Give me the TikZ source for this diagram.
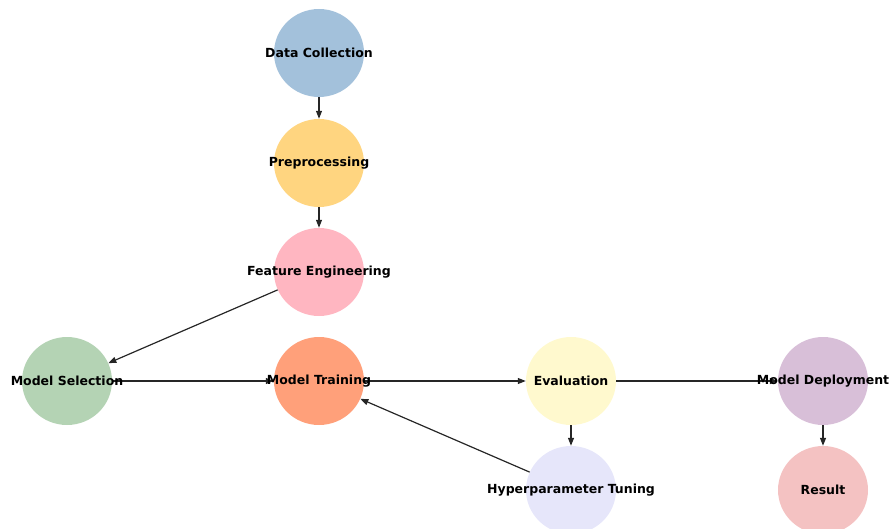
\documentclass[tikz,border=0pt]{standalone}
\usepackage{fontspec}
\setmainfont{DejaVu Sans}
\usetikzlibrary{shapes.geometric,arrows.meta}
\definecolor{cDC}{HTML}{A3C1DB}
\definecolor{cPP}{HTML}{FFD580}
\definecolor{cFE}{HTML}{FFB6C1}
\definecolor{cMS}{HTML}{B4D3B4}
\definecolor{cMT}{HTML}{FFA07A}
\definecolor{cEV}{HTML}{FFF9CE}
\definecolor{cMD}{HTML}{D8BFD8}
\definecolor{cHT}{HTML}{E6E6FA}
\definecolor{cRS}{HTML}{F4C2C2}
\tikzset{
  circ/.style={ellipse, minimum width=90pt, minimum height=88pt, inner sep=0pt, draw=none},
  lbl/.style={font=\bfseries\fontsize{12.5}{14}\selectfont, text=black, inner sep=0pt},
  conn/.style={-{Triangle[length=8pt,width=6pt]}, line width=1.2pt, draw=black!85},
}
\begin{document}
\begin{tikzpicture}[x=1pt,y=-1pt]
\useasboundingbox (0,0) rectangle (891,529);
\clip (0,0) rectangle (891,529);
\node[circ, fill=cDC] (dc) at (319,53) {};
\node[circ, fill=cPP] (pp) at (319,163) {};
\node[circ, fill=cFE] (fe) at (319,272) {};
\node[circ, fill=cMS] (ms) at (67,381) {};
\node[circ, fill=cMT] (mt) at (319,381) {};
\node[circ, fill=cEV] (ev) at (571,381) {};
\node[circ, fill=cMD] (md) at (823,381) {};
\node[circ, fill=cHT] (ht) at (571,490) {};
\node[circ, fill=cRS] (rs) at (823,490) {};
\draw[conn] (dc) -- (pp);
\draw[conn] (pp) -- (fe);
\draw[conn] (fe) -- (ms);
\draw[conn] (ms) -- (mt);
\draw[conn] (mt) -- (ev);
\draw[conn] (ev) -- (md);
\draw[conn] (ev) -- (ht);
\draw[conn] (ht) -- (mt);
\draw[conn] (md) -- (rs);
\node[lbl] at (dc) {Data Collection};
\node[lbl] at (pp) {Preprocessing};
\node[lbl] at (fe) {Feature Engineering};
\node[lbl] at (ms) {Model Selection};
\node[lbl] at (mt) {Model Training};
\node[lbl] at (ev) {Evaluation};
\node[lbl] at (md) {Model Deployment};
\node[lbl] at (ht) {Hyperparameter Tuning};
\node[lbl] at (rs) {Result};
\end{tikzpicture}
\end{document}
